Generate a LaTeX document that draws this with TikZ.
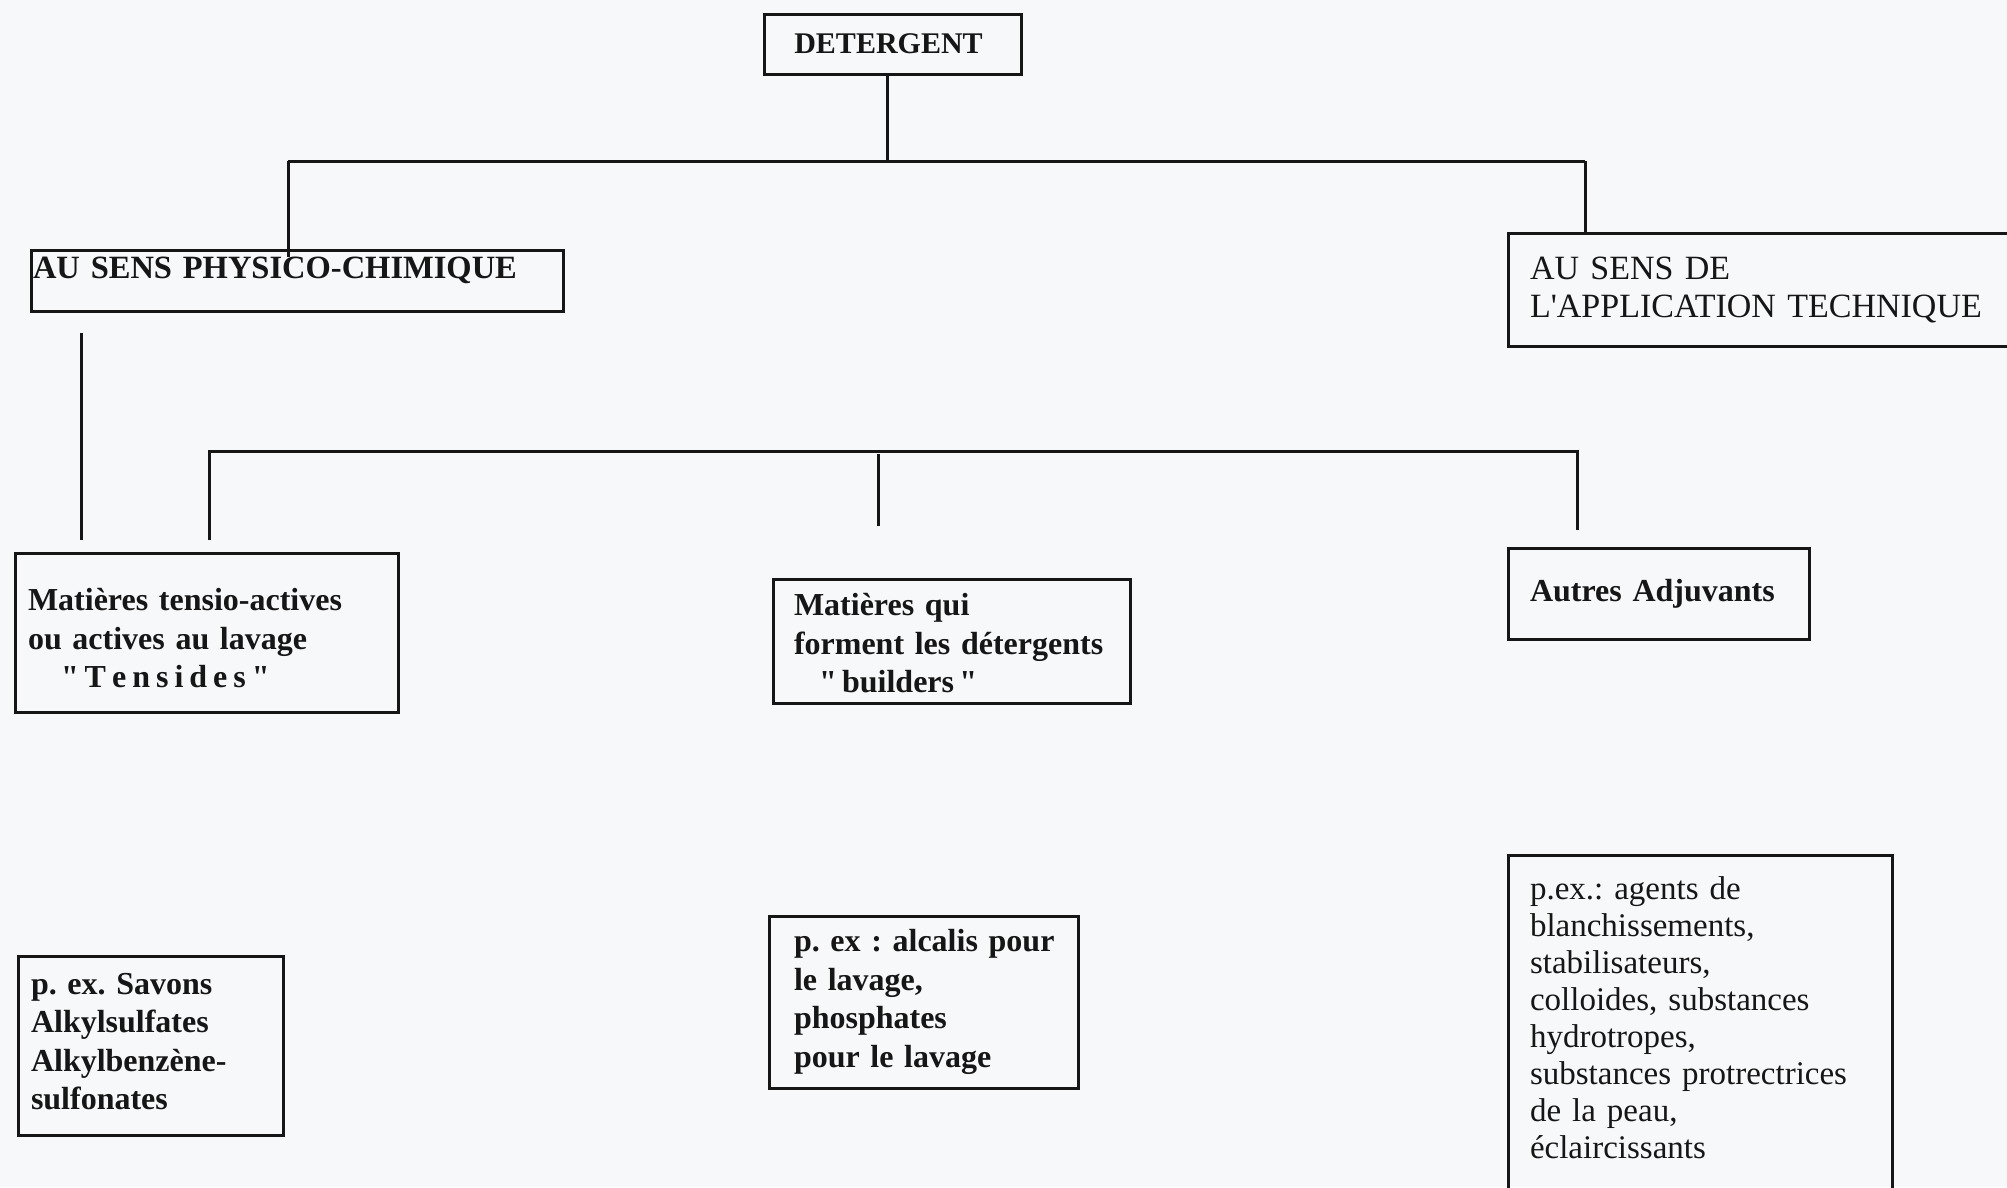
\documentclass[tikz,border=0pt]{standalone}
\usepackage{fontspec}
\setmainfont{Liberation Serif}[Ligatures=TeXOff]
\definecolor{paper}{RGB}{247,248,250}
\definecolor{ink}{RGB}{22,22,22}
\newcommand\myDet{\fontsize{30}{36}\selectfont\bfseries\frenchspacing}
\newcommand\myPhys{\fontsize{32.5}{39}\selectfont\bfseries\frenchspacing}
\newcommand\myApp{\fontsize{34}{38}\selectfont\frenchspacing}
\newcommand\myBold{\fontsize{32}{38.5}\selectfont\bfseries\frenchspacing}
\newcommand\myReg{\fontsize{33}{37}\selectfont\frenchspacing}
\newcommand\lsp{\kern6pt}
\newcommand\topstrut[1]{\rule{0pt}{#1}}
\tikzset{
  box/.style={draw=ink, line width=3pt, rectangle, anchor=north west, align=left,
    inner ysep=0pt, outer sep=0pt, text=ink},
  link/.style={draw=ink, line width=3pt},
}
\begin{document}
\begin{tikzpicture}[x=1pt,y=-1pt]
\fill[paper] (0,0) rectangle (2007,1187);
\useasboundingbox (0,0) rectangle (2007,1187);
\clip (0,0) rectangle (2007,1187);

% boxes
\node[box, font=\myDet, align=center, minimum width=257pt, minimum height=60pt, inner xsep=0pt] (det) at (764,14) {DETERGENT\hspace*{8pt}};
\node[box, font=\myPhys, minimum width=532pt, minimum height=61pt, text width=528pt, inner xsep=2pt, text height=22pt, text depth=26pt] (phys) at (31,250) {AU SENS PHYSICO-CHIMIQUE};
\node[box, font=\myApp, minimum width=560pt, minimum height=113pt, text width=516pt, inner xsep=22pt] (app) at (1508,233) {AU SENS DE\\L'APPLICATION TECHNIQUE};

\node[box, font=\myBold, minimum width=383pt, minimum height=159pt, text width=357pt, inner xsep=13pt] (tens) at (15,553) {\topstrut{34pt}Matières tensio-actives\\ou actives au lavage\\\hspace*{33pt}"\lsp T\lsp e\lsp n\lsp s\lsp i\lsp d\lsp e\lsp s\lsp "};
\node[box, font=\myBold, minimum width=357pt, minimum height=124pt, text width=315pt, inner xsep=21pt] (build) at (773,579) {\topstrut{27pt}Matières qui\\forment les détergents\\\hspace*{25pt}"\,builders\,"};
\node[box, font=\myBold, minimum width=301pt, minimum height=91pt, text width=257pt, inner xsep=22pt] (autres) at (1508,548) {Autres Adjuvants};

\node[box, font=\myBold, minimum width=265pt, minimum height=179pt, text width=239pt, inner xsep=13pt] (sav) at (18,956) {p. ex. Savons\\Alkylsulfates\\Alkylbenzène-\\sulfonates\\[-30pt]\mbox{}};
\node[box, font=\myBold, minimum width=309pt, minimum height=172pt, text width=259pt, inner xsep=25pt] (alc) at (769,916) {\mbox{p. ex : alcalis pour}\\le lavage,\\phosphates\\pour le lavage};
\node[box, font=\myReg, minimum width=384pt, text width=340pt, inner xsep=22pt, inner ysep=22pt] (adj) at (1508,855) {p.ex.: agents de\\blanchissements,\\stabilisateurs,\\colloides, substances\\hydrotropes,\\substances protrectrices\\de la peau,\\éclaircissants\\[40pt]\mbox{}};

% junction coordinates
\coordinate (j1) at (887,161);
\coordinate (l1) at (288,161);
\coordinate (r1) at (1585,161);
\coordinate (fa) at (81,333);
\coordinate (fb) at (81,540);
\coordinate (l2) at (209,451);
\coordinate (r2) at (1577,451);
\coordinate (l2e) at (209,540);
\coordinate (m2) at (878,454);
\coordinate (m2e) at (878,526);
\coordinate (r2e) at (1577,530);

% connectors
\draw[link] (j1 |- det.south) -- (j1);
\draw[link] (l1) -- (r1);
\draw[link] (l1) -- ([yshift=-7pt]l1 |- phys.north);
\draw[link] (r1) -- (r1 |- app.north);
\draw[link] (fa) -- (fb);
\draw[link] (l2e) -- (l2) -- (r2) -- (r2e);
\draw[link] (m2) -- (m2e);
\end{tikzpicture}
\end{document}
